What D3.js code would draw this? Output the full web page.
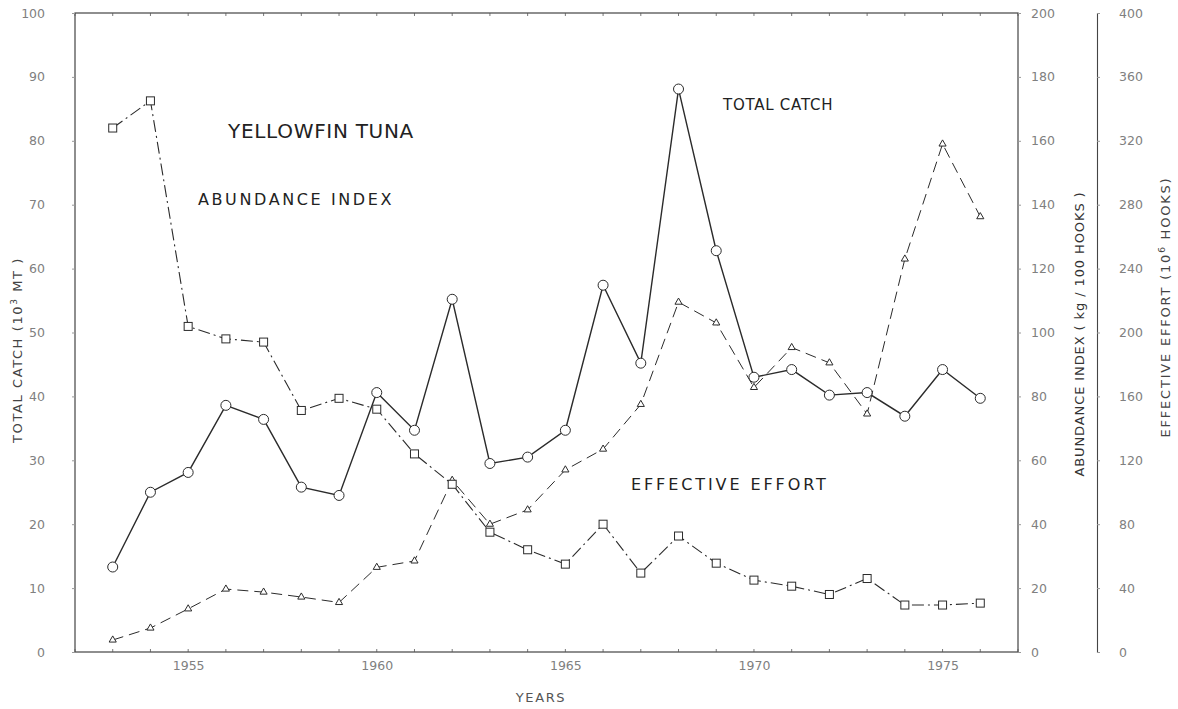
<!DOCTYPE html>
<html>
<head>
<meta charset="utf-8">
<script src="https://cdn.jsdelivr.net/npm/d3@7"></script>
<style>
  html, body { margin: 0; padding: 0; background: #fff; }
  svg { display: block; }
  text { font-family: "DejaVu Sans", "Liberation Sans", sans-serif; }
</style>
</head>
<body>
<svg id="chart" width="1178" height="709"></svg>
<script>
// ---- Data ----
const years = [1953,1954,1955,1956,1957,1958,1959,1960,1961,1962,1963,1964,1965,1966,1967,1968,1969,1970,1971,1972,1973,1974,1975,1976];
const totalCatch = [13.3,25.0,28.1,38.6,36.4,25.8,24.5,40.6,34.7,55.2,29.5,30.5,34.7,57.4,45.2,88.1,62.8,43.0,44.2,40.2,40.6,36.9,44.2,39.7];
const abundanceIndex = [164,172.5,101.9,98.0,97.0,75.6,79.4,76.0,62.0,52.5,37.5,32.0,27.5,40.0,24.7,36.3,27.8,22.5,20.6,18.0,23.0,14.7,14.7,15.3];
const effectiveEffort = [7.5,15,27,39.4,37.5,34.4,31,53,57,107.5,80,89,114,127,155,219,206,165.6,190.6,181,149,246,318,272.5];

const yearTicks = [1955,1960,1965,1970,1975];
const catchTicks = [0,10,20,30,40,50,60,70,80,90,100];
const abundanceTicks = [0,20,40,60,80,100,120,140,160,180,200];
const effortTicks = [0,40,80,120,160,200,240,280,320,360,400];

const titleText = "YELLOWFIN TUNA";
const labelAbundance = "ABUNDANCE INDEX";
const labelCatch = "TOTAL CATCH";
const labelEffort = "EFFECTIVE EFFORT";
const xTitle = "YEARS";

// ---- Layout ----
const svg = d3.select("#chart");
const L = 75, R = 1018, T = 13, B = 652;
const ink = "#2b2b2b", tickInk = "#808080";

const x = d3.scaleLinear().domain([1952, 1977]).range([L, R]);
const yCatch = d3.scaleLinear().domain([0, 100]).range([B, T]);
const yAbund = d3.scaleLinear().domain([0, 200]).range([B, T]);
const yEffort = d3.scaleLinear().domain([0, 400]).range([B, T]);

// frame
svg.append("rect").attr("x", L).attr("y", T).attr("width", R - L).attr("height", B - T)
  .attr("fill", "none").attr("stroke", "#444").attr("stroke-width", 1.2);

// inner year ticks bottom & top
const allYears = d3.range(1952, 1978);
svg.append("g").selectAll("line.bt").data(allYears).join("line")
  .attr("x1", d => x(d)).attr("x2", d => x(d)).attr("y1", B).attr("y2", B - 3)
  .attr("stroke", "#555").attr("stroke-width", 0.8);
svg.append("g").selectAll("line.tt").data(allYears).join("line")
  .attr("x1", d => x(d)).attr("x2", d => x(d)).attr("y1", T).attr("y2", T + 3)
  .attr("stroke", "#555").attr("stroke-width", 0.8);

// x axis labels
const xAxis = d3.axisBottom(x).tickValues(yearTicks).tickFormat(d3.format("d")).tickSize(0).tickPadding(9);
const gx = svg.append("g").attr("transform", `translate(0,${B})`).call(xAxis);
gx.select(".domain").remove();
gx.selectAll("text").attr("fill", tickInk).attr("font-size", 12.5);

// left axis
const leftAxis = d3.axisLeft(yCatch).tickValues(catchTicks).tickFormat(d3.format("d")).tickSize(3).tickPadding(28);
const gl = svg.append("g").attr("transform", `translate(${L},0)`).call(leftAxis);
gl.select(".domain").remove();
gl.selectAll("line").attr("stroke", "#999");
gl.selectAll("text").attr("fill", tickInk).attr("font-size", 12.5).attr("text-anchor", "end")
  .attr("x", -30);

// abundance axis (right edge of frame)
const abAxis = d3.axisRight(yAbund).tickValues(abundanceTicks).tickFormat(d3.format("d")).tickSize(3).tickPadding(10);
const ga = svg.append("g").attr("transform", `translate(${R},0)`).call(abAxis);
ga.select(".domain").remove();
ga.selectAll("line").attr("stroke", "#999");
ga.selectAll("text").attr("fill", tickInk).attr("font-size", 12.5);

// effort axis
const effX = 1097;
const efAxis = d3.axisRight(yEffort).tickValues(effortTicks).tickFormat(d3.format("d")).tickSize(3).tickPadding(19);
const ge = svg.append("g").attr("transform", `translate(${effX},0)`).call(efAxis);
ge.select(".domain").attr("stroke", "#444").attr("stroke-width", 1.1);
ge.selectAll("line").attr("stroke", "#999");
ge.selectAll("text").attr("fill", tickInk).attr("font-size", 12.5);

// axis titles
svg.append("text").attr("transform", "translate(22,350) rotate(-90)")
  .attr("text-anchor", "middle").attr("font-size", 13).attr("fill", "#444").attr("letter-spacing", 1.6)
  .html('TOTAL CATCH (10<tspan baseline-shift="super" font-size="9">3</tspan> MT )');
svg.append("text").attr("transform", "translate(1084,334) rotate(-90)")
  .attr("text-anchor", "middle").attr("font-size", 13).attr("fill", "#333").attr("letter-spacing", 0.9)
  .text("ABUNDANCE INDEX ( kg / 100 HOOKS )");
svg.append("text").attr("transform", "translate(1170,307) rotate(-90)")
  .attr("text-anchor", "middle").attr("font-size", 13).attr("fill", "#444").attr("letter-spacing", 1.8)
  .html('EFFECTIVE EFFORT (10<tspan baseline-shift="super" font-size="9">6</tspan> HOOKS)');
svg.append("text").attr("x", 541).attr("y", 702).attr("text-anchor", "middle")
  .attr("font-size", 13).attr("fill", "#555").attr("letter-spacing", 1.6).text(xTitle);

// in-plot labels
svg.append("text").attr("x", 228).attr("y", 138).attr("font-size", 20).attr("fill", "#222")
  .attr("letter-spacing", 0.7).text(titleText);
svg.append("text").attr("x", 198).attr("y", 205).attr("font-size", 16).attr("fill", "#222")
  .attr("letter-spacing", 2.6).text(labelAbundance);
svg.append("text").attr("x", 723).attr("y", 110).attr("font-size", 15).attr("fill", "#222")
  .attr("letter-spacing", 0.75).text(labelCatch);
svg.append("text").attr("x", 631).attr("y", 490).attr("font-size", 16).attr("fill", "#222")
  .attr("letter-spacing", 2.9).text(labelEffort);

// ---- series ----
const lineOf = (vals, ys) => d3.line().x((d, i) => x(years[i])).y(d => ys(d))(vals);

// effort (dashed, triangles)
svg.append("path").attr("d", lineOf(effectiveEffort, yEffort))
  .attr("fill", "none").attr("stroke", ink).attr("stroke-width", 1).attr("stroke-dasharray", "11,6");
// abundance (dash-dot, squares)
svg.append("path").attr("d", lineOf(abundanceIndex, yAbund))
  .attr("fill", "none").attr("stroke", ink).attr("stroke-width", 1.1).attr("stroke-dasharray", "12,4,2,4");
// catch (solid, circles)
svg.append("path").attr("d", lineOf(totalCatch, yCatch))
  .attr("fill", "none").attr("stroke", ink).attr("stroke-width", 1.4);

// markers
svg.append("g").selectAll("path").data(effectiveEffort).join("path")
  .attr("transform", (d, i) => `translate(${x(years[i])},${yEffort(d)})`)
  .attr("d", d3.symbol(d3.symbolTriangle, 22)())
  .attr("fill", "#fff").attr("stroke", ink).attr("stroke-width", 1);
svg.append("g").selectAll("rect").data(abundanceIndex).join("rect")
  .attr("x", (d, i) => x(years[i]) - 4).attr("y", d => yAbund(d) - 4)
  .attr("width", 8).attr("height", 8)
  .attr("fill", "#fff").attr("stroke", ink).attr("stroke-width", 1);
svg.append("g").selectAll("circle").data(totalCatch).join("circle")
  .attr("cx", (d, i) => x(years[i])).attr("cy", d => yCatch(d)).attr("r", 5)
  .attr("fill", "#fff").attr("stroke", ink).attr("stroke-width", 1);
</script>
</body>
</html>
